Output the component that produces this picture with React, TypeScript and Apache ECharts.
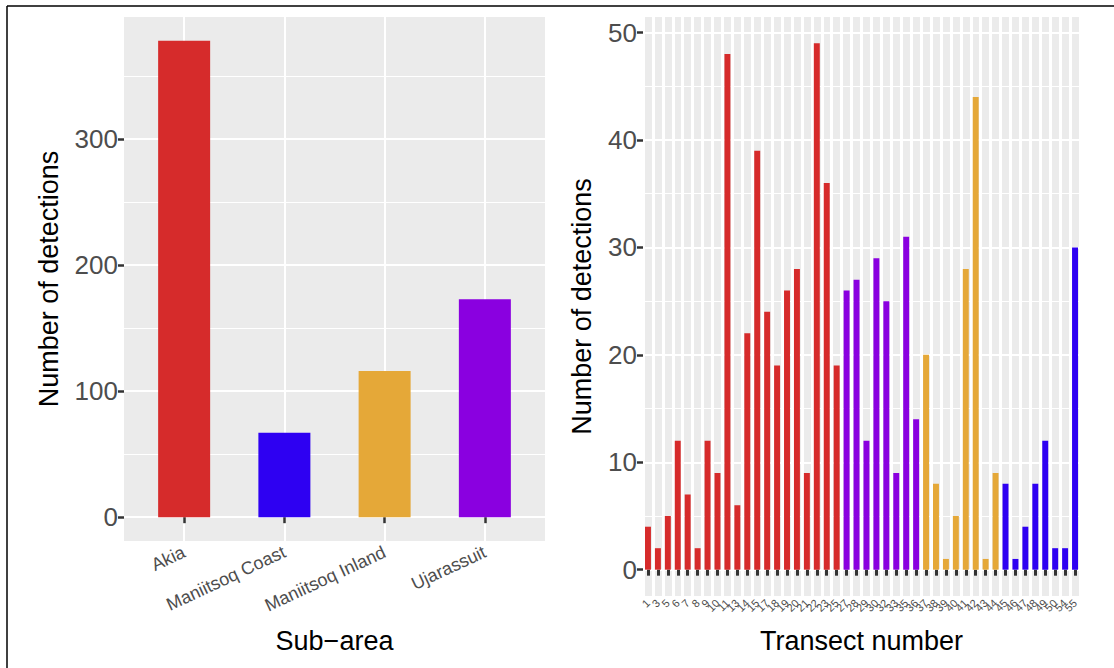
import { useEffect, useRef } from "react";
import * as echarts from "echarts";

// Detections per sub-area (left panel)
const subAreas = ["Akia", "Maniitsoq Coast", "Maniitsoq Inland", "Ujarassuit"];
const subAreaDetections = [378, 67, 116, 173];
const subAreaColors = ["#D62B2B", "#2E00F2", "#E5A838", "#8A00E0"];
const subAreaTicks = [0, 100, 200, 300];
const subAreaMinorTicks = [50, 150, 250, 350];

// Detections per transect (right panel)
const transects = [
  "1", "3", "5", "6", "7", "8", "9", "10", "11", "13", "14", "15", "17", "18", "19", "20", "21", "22", "23", "25",
  "27", "28", "29", "30", "32", "33", "35", "36",
  "37", "38", "39", "40", "41", "42", "43", "44",
  "45", "46", "47", "48", "49", "50", "54", "55",
];
const transectDetections = [
  4, 2, 5, 12, 7, 2, 12, 9, 48, 6, 22, 39, 24, 19, 26, 28, 9, 49, 36, 19,
  26, 27, 12, 29, 25, 9, 31, 14,
  20, 8, 1, 5, 28, 44, 1, 9,
  8, 1, 4, 8, 12, 2, 2, 30,
];
const transectSubArea = [
  "Akia", "Akia", "Akia", "Akia", "Akia", "Akia", "Akia", "Akia", "Akia", "Akia",
  "Akia", "Akia", "Akia", "Akia", "Akia", "Akia", "Akia", "Akia", "Akia", "Akia",
  "Ujarassuit", "Ujarassuit", "Ujarassuit", "Ujarassuit", "Ujarassuit", "Ujarassuit", "Ujarassuit", "Ujarassuit",
  "Maniitsoq Inland", "Maniitsoq Inland", "Maniitsoq Inland", "Maniitsoq Inland",
  "Maniitsoq Inland", "Maniitsoq Inland", "Maniitsoq Inland", "Maniitsoq Inland",
  "Maniitsoq Coast", "Maniitsoq Coast", "Maniitsoq Coast", "Maniitsoq Coast",
  "Maniitsoq Coast", "Maniitsoq Coast", "Maniitsoq Coast", "Maniitsoq Coast",
];
const transectTicks = [0, 10, 20, 30, 40, 50];
const transectMinorTicks = [5, 15, 25, 35, 45];

const FONT = "'Liberation Sans', Arial, sans-serif";
const PANEL = "#EBEBEB";
const TICK_TEXT = "#4D4D4D";
const TICK_LINE = "#333333";

export default function App() {
  const ref = useRef<HTMLDivElement>(null);

  useEffect(() => {
    if (!ref.current) return;
    const chart = echarts.init(ref.current, null, { renderer: "svg" });

    const subAreaPositions = subAreas.map((_, i) => i + 1);
    const colorOf = (name: string) => subAreaColors[subAreas.indexOf(name)];

    // Expanded ranges (5% of the data range on each side)
    const leftMax = Math.max(...subAreaDetections);
    const rightMax = Math.max(...transectDetections);

    const hiddenAxisBits = {
      axisLine: { show: false },
      axisLabel: { show: false },
      axisTick: { show: false },
    };

    chart.setOption({
      animation: false,
      textStyle: { fontFamily: FONT },
      graphic: [
        { type: "line", shape: { x1: 7, y1: 6, x2: 1114, y2: 6 }, style: { stroke: "#000", lineWidth: 1.5 } },
        { type: "line", shape: { x1: 7, y1: 6, x2: 7, y2: 668 }, style: { stroke: "#000", lineWidth: 1.5 } },
      ],
      grid: [
        { left: 124, top: 17, width: 421, height: 524, show: true, backgroundColor: PANEL, borderWidth: 0 },
        { left: 643, top: 17, width: 437, height: 579, show: true, backgroundColor: PANEL, borderWidth: 0 },
      ],
      xAxis: [
        {
          type: "value",
          gridIndex: 0,
          min: 0.4,
          max: subAreas.length + 0.6,
          axisLine: { show: false },
          axisTick: {
            show: true,
            customValues: subAreaPositions,
            length: 6,
            lineStyle: { color: TICK_LINE, width: 2.5 },
          },
          axisLabel: {
            customValues: subAreaPositions,
            formatter: (v: number) => subAreas[Math.round(v) - 1],
            rotate: 25,
            fontSize: 18,
            color: TICK_TEXT,
            margin: 10,
            fontFamily: FONT,
          },
          splitLine: { show: true, lineStyle: { color: "#FFFFFF", width: 2 } },
          name: "Sub\u2212area",
          nameLocation: "middle",
          nameGap: 86,
          nameTextStyle: { fontSize: 27, color: "#000", fontFamily: FONT },
        },
        {
          type: "category",
          gridIndex: 1,
          data: transects,
          boundaryGap: true,
          axisLine: { show: false },
          axisTick: {
            show: true,
            alignWithLabel: true,
            interval: 0,
            length: 6,
            lineStyle: { color: TICK_LINE, width: 3 },
          },
          axisLabel: {
            interval: 0,
            rotate: 45,
            fontSize: 11,
            color: TICK_TEXT,
            margin: 5,
            hideOverlap: false,
            fontFamily: FONT,
          },
          splitLine: { show: true, interval: 0, lineStyle: { color: "#FFFFFF", width: 3 } },
          name: "Transect number",
          nameLocation: "middle",
          nameGap: 31,
          nameTextStyle: { fontSize: 27, color: "#000", fontFamily: FONT },
        },
      ],
      yAxis: [
        {
          type: "value",
          gridIndex: 0,
          position: "left",
          min: -0.05 * leftMax,
          max: 1.05 * leftMax,
          axisLine: { show: false },
          axisTick: {
            show: true,
            customValues: subAreaTicks,
            length: 6,
            lineStyle: { color: TICK_LINE, width: 2.5 },
          },
          axisLabel: { customValues: subAreaTicks, fontSize: 26, color: TICK_TEXT, margin: 6, fontFamily: FONT },
          splitLine: { show: true, lineStyle: { color: "#FFFFFF", width: 2 } },
          name: "Number of detections",
          nameLocation: "middle",
          nameGap: 62,
          nameTextStyle: { fontSize: 27, color: "#000", fontFamily: FONT },
        },
        {
          type: "value",
          gridIndex: 0,
          position: "left",
          min: -0.05 * leftMax,
          max: 1.05 * leftMax,
          ...hiddenAxisBits,
          axisTick: { show: false, customValues: subAreaMinorTicks },
          splitLine: { show: true, lineStyle: { color: "#FFFFFF", width: 1 } },
        },
        {
          type: "value",
          gridIndex: 1,
          position: "left",
          min: -0.05 * rightMax,
          max: 1.05 * rightMax,
          axisLine: { show: false },
          axisTick: {
            show: true,
            customValues: transectTicks,
            length: 6,
            lineStyle: { color: TICK_LINE, width: 2.5 },
          },
          axisLabel: { customValues: transectTicks, fontSize: 26, color: TICK_TEXT, margin: 6, fontFamily: FONT },
          splitLine: { show: true, lineStyle: { color: "#FFFFFF", width: 2 } },
          name: "Number of detections",
          nameLocation: "middle",
          nameGap: 48,
          nameTextStyle: { fontSize: 27, color: "#000", fontFamily: FONT },
        },
        {
          type: "value",
          gridIndex: 1,
          position: "left",
          min: -0.05 * rightMax,
          max: 1.05 * rightMax,
          ...hiddenAxisBits,
          axisTick: { show: false, customValues: transectMinorTicks },
          splitLine: { show: true, lineStyle: { color: "#FFFFFF", width: 1 } },
        },
      ],
      series: [
        {
          type: "bar",
          xAxisIndex: 0,
          yAxisIndex: 0,
          barWidth: 52,
          data: subAreaDetections.map((v, i) => ({
            value: [subAreaPositions[i], v],
            itemStyle: { color: subAreaColors[i] },
          })),
        },
        {
          type: "bar",
          xAxisIndex: 1,
          yAxisIndex: 2,
          barWidth: "60%",
          data: transectDetections.map((v, i) => ({
            value: v,
            itemStyle: { color: colorOf(transectSubArea[i]) },
          })),
        },
      ],
    });

    return () => chart.dispose();
  }, []);

  return (
    <div
      ref={ref}
      style={{ position: "fixed", left: 0, top: 0, width: 1114, height: 668, background: "#FFFFFF" }}
    />
  );
}
